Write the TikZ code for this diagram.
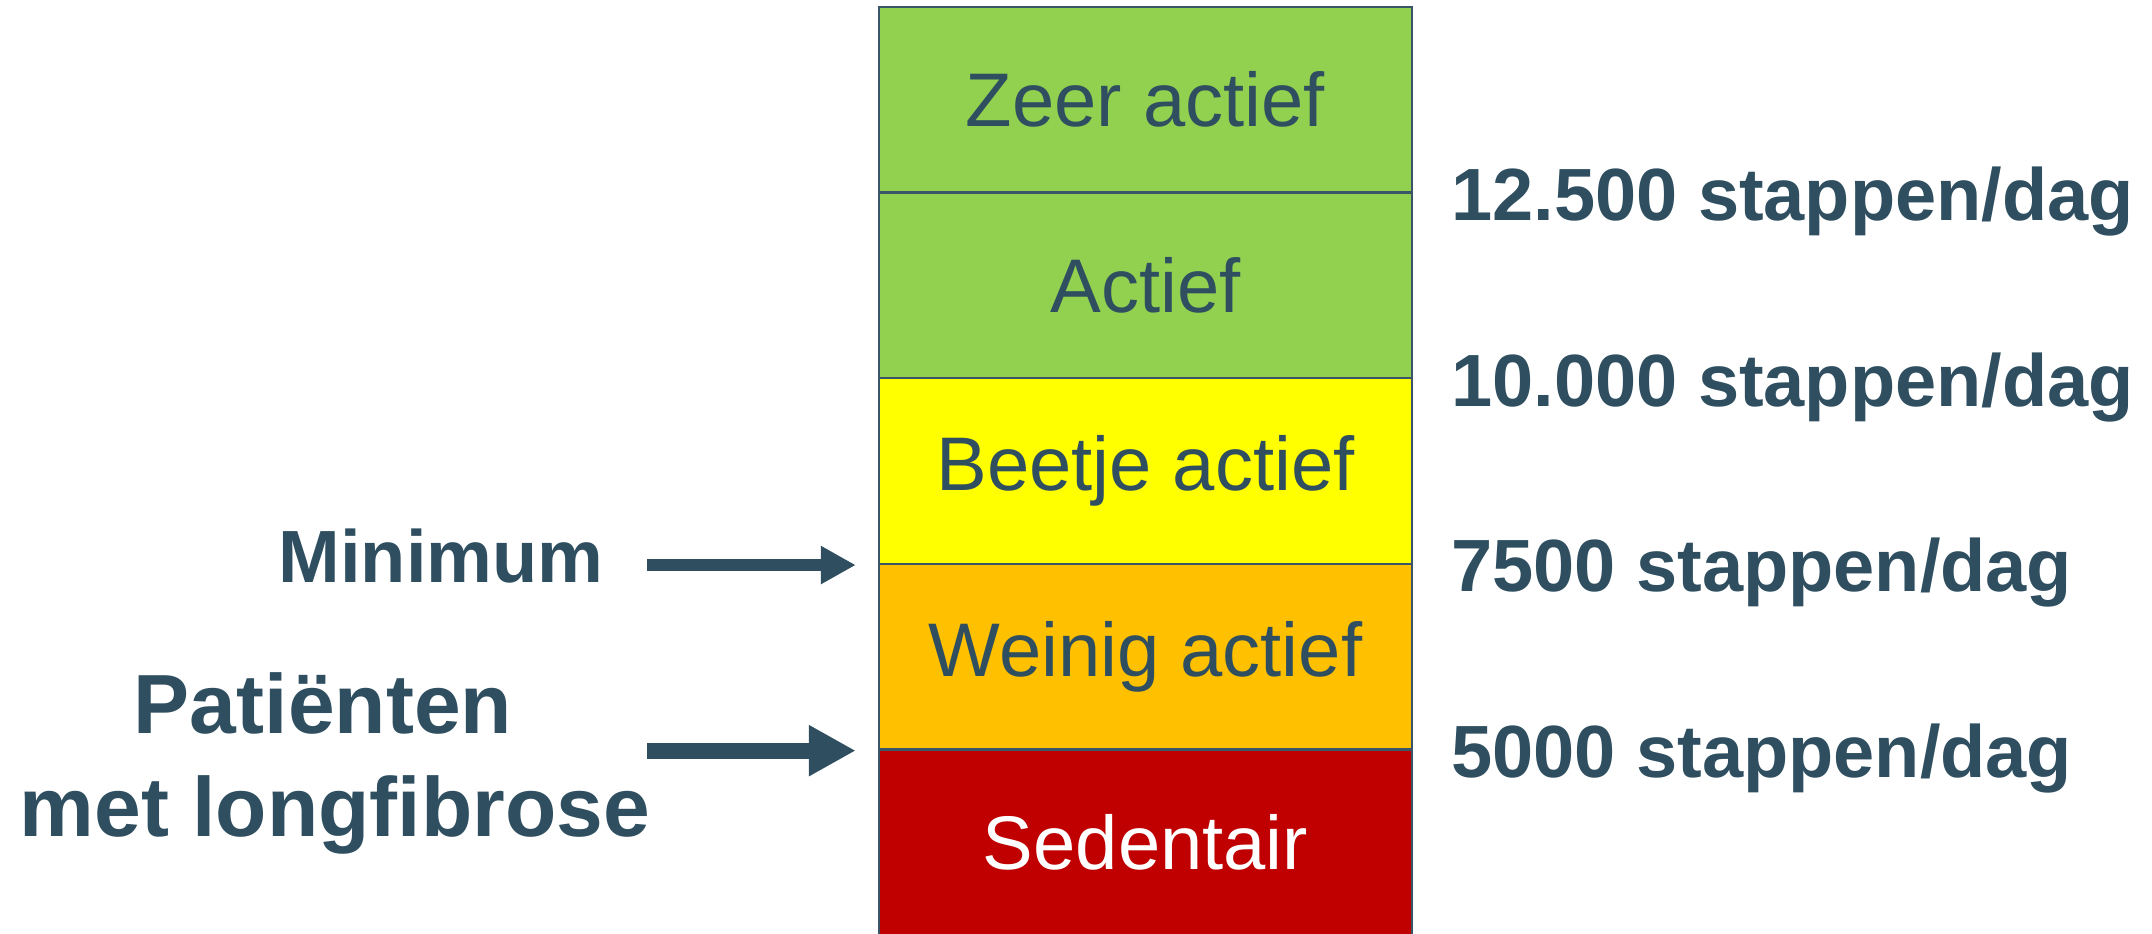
\documentclass[tikz,border=0pt]{standalone}
\usepackage{fontspec}
\setmainfont{Liberation Sans}
\usetikzlibrary{arrows.meta}

\definecolor{ink}{HTML}{2F4F60}
\definecolor{rim}{HTML}{3A5568}
\definecolor{lvlgreen}{HTML}{92D050}
\definecolor{lvlyellow}{HTML}{FFFF00}
\definecolor{lvlorange}{HTML}{FFC000}
\definecolor{lvlred}{HTML}{C00000}

\tikzset{
  level/.style={draw=rim, line width=2.5pt, rectangle, inner sep=0pt,
    minimum width=533pt, minimum height=185.6pt,
    font=\fontsize{76}{90}\selectfont, text=ink},
  steps/.style={anchor=base west, inner sep=0pt, text=ink,
    font=\fontsize{74}{88}\selectfont\bfseries},
  sidelabel/.style={anchor=base, inner sep=0pt, text=ink,
    font=\fontsize{74}{88}\selectfont\bfseries},
  biglabel/.style={anchor=base, inner sep=0pt, text=ink,
    font=\fontsize{84}{100}\selectfont\bfseries},
  pointer/.style={draw=ink, fill=ink}
}

\begin{document}
\begin{tikzpicture}[x=1pt, y=-1pt]
  \useasboundingbox (0,0) rectangle (2152,934);

  % activity levels, top to bottom
  \node[level, fill=lvlgreen]  (zeer)   at (1145.5, 99.8)  {Zeer actief};
  \node[level, fill=lvlgreen]  (actief) at (1145.5, 285.4) {Actief};
  \node[level, fill=lvlyellow] (beetje) at (1145.5, 471.0) {Beetje actief};
  \node[level, fill=lvlorange] (weinig) at (1145.5, 656.6) {Weinig actief};
  \node[level, fill=lvlred, text=white] (sed) at (1145.5, 842.2) {Sedentair};

  % step thresholds at the level boundaries
  \node[steps] (s12500) at (1451, 220.5) {12.500 stappen/dag};
  \node[steps] (s10000) at (1451, 406)   {10.000 stappen/dag};
  \node[steps] (s7500)  at (1451, 591.5) {7500 stappen/dag};
  \node[steps] (s5000)  at (1451, 777)   {5000 stappen/dag};

  % labels on the left
  \node[sidelabel] (minimum) at (441, 582) {Minimum};
  \node[biglabel] (pat1) at (323, 733) {Patiënten};
  \node[biglabel] (pat2) at (335, 836) {met longfibrose};

  % arrows start level with the boundary they point at
  \path (beetje.south west) ++(-231,0) coordinate (minstart);
  \path (weinig.south west) ++(-231,0) coordinate (patstart);

  \draw[pointer, line width=12pt, shorten >=22pt,
        -{Triangle[length=35pt, width=36pt]}]
    (minstart) -- (beetje.south west);
  \draw[pointer, line width=16pt, shorten >=22pt,
        -{Triangle[length=47pt, width=48pt]}]
    (patstart) -- (weinig.south west);
\end{tikzpicture}
\end{document}
